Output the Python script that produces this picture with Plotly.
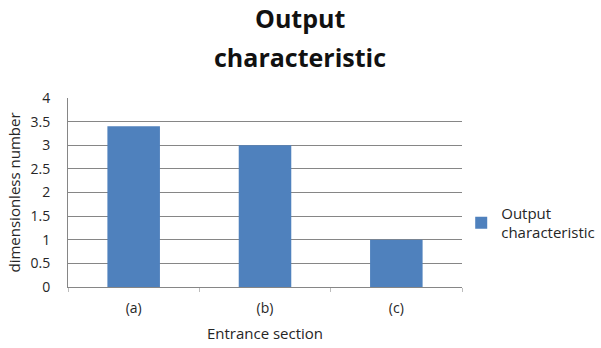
import plotly.graph_objects as go

categories = ["(a)", "(b)", "(c)"]
values = [3.4, 3.0, 1.0]
series_name = "Output<br>characteristic"
title_lines = ["Output", "characteristic"]
y_ticks = [0, 0.5, 1, 1.5, 2, 2.5, 3, 3.5, 4]
y_tick_labels = ["0", "0.5", "1", "1.5", "2", "2.5", "3", "3.5", "4"]

FONT = "Open Sans"
TEXT = "#262626"

fig = go.Figure()
fig.add_trace(go.Bar(
    x=categories,
    y=values,
    name=series_name,
    marker=dict(color="#4F81BD", line=dict(width=0)),
    showlegend=True,
))

# two-line bold chart title, each line placed on its own
for line, ypix in zip(title_lines, [18, 57]):
    fig.add_annotation(
        text=f"<b>{line}</b>",
        xref="paper", yref="paper",
        x=(300 - 68) / 394, y=(287 - ypix) / 189,
        xanchor="center", yanchor="middle",
        showarrow=False,
        font=dict(family=FONT, size=25, color="#111111"),
    )

fig.update_layout(
    width=601,
    height=348,
    margin=dict(l=68, r=139, t=98, b=61, autoexpand=False),
    paper_bgcolor="white",
    plot_bgcolor="white",
    bargap=0.6,
    font=dict(family=FONT, size=14, color=TEXT),
    legend=dict(
        x=0.998, xanchor="left",
        y=0.34, yanchor="middle",
        font=dict(family=FONT, size=15, color=TEXT),
        itemwidth=30,
        bgcolor="rgba(0,0,0,0)",
    ),
    xaxis=dict(
        title=dict(text="Entrance section", font=dict(family=FONT, size=15), standoff=12),
        showline=True, linecolor="#868686", linewidth=1,
        ticks="outside", tickson="boundaries", ticklen=4, tickcolor="#bdbdbd",
        showgrid=False,
        tickfont=dict(family=FONT, size=14),
        ticklabelstandoff=8,
    ),
    yaxis=dict(
        title=dict(text="dimensionless number", font=dict(family=FONT, size=15), standoff=6),
        range=[0, 4],
        tickvals=y_ticks,
        ticktext=y_tick_labels,
        showline=True, linecolor="#868686", linewidth=1,
        showgrid=True, gridcolor="#868686", gridwidth=1,
        zeroline=False,
        ticks="",
        tickfont=dict(family=FONT, size=14),
        ticklabelstandoff=14,
    ),
)

fig.write_html("out.html")
